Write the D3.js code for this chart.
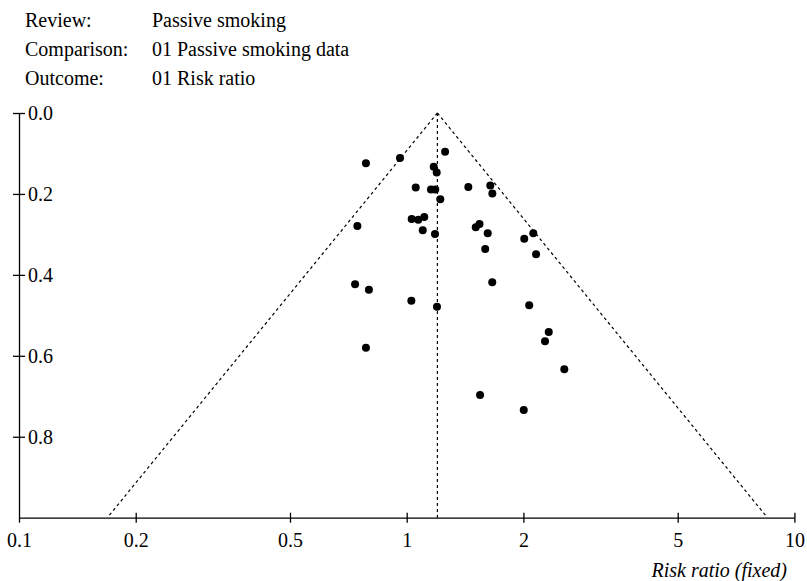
<!DOCTYPE html>
<html>
<head>
<meta charset="utf-8">
<script src="https://cdn.jsdelivr.net/npm/d3@7"></script>
<style>
  html, body { margin: 0; padding: 0; background: #fff; }
  svg { display: block; font-family: "Liberation Serif", "Times New Roman", Times, serif; }
</style>
</head>
<body>
<svg id="chart" width="807" height="581"></svg>
<script>
// ---- data ----
const headerLabels = ["Review:", "Comparison:", "Outcome:"];
const headerValues = ["Passive smoking", "01 Passive smoking data", "01 Risk ratio"];

const studyRR = [0.785, 0.961, 1.256, 1.174, 1.195, 1.055, 1.155, 1.185, 1.221, 1.442, 1.643, 1.663,
                 1.030, 1.071, 1.110, 0.746, 1.100, 1.183, 1.507, 1.541, 1.618, 1.594, 2.010, 2.121,
                 2.156, 0.736, 0.799, 1.028, 1.197, 1.662, 2.070, 2.325, 2.274, 2.550, 1.546, 2.004, 0.785];
const studySE = [0.124, 0.111, 0.096, 0.133, 0.147, 0.184, 0.189, 0.189, 0.213, 0.183, 0.179, 0.199,
                 0.262, 0.264, 0.257, 0.279, 0.290, 0.299, 0.282, 0.274, 0.297, 0.336, 0.311, 0.297,
                 0.349, 0.423, 0.437, 0.464, 0.479, 0.418, 0.475, 0.541, 0.564, 0.633, 0.697, 0.734, 0.580];

const summaryRR = 1.2;
const seMax = 1.0;
const xTicks = [0.1, 0.2, 0.5, 1, 2, 5, 10];
const xTickLabels = ["0.1", "0.2", "0.5", "1", "2", "5", "10"];
const yTicks = [0, 0.2, 0.4, 0.6, 0.8];
const yTickLabels = ["0.0", "0.2", "0.4", "0.6", "0.8"];
const xTitle = "Risk ratio (fixed)";

// ---- layout ----
const svg = d3.select("#chart");
const x = d3.scaleLog().domain([0.1, 10]).range([19, 794.4]);
const y = d3.scaleLinear().domain([0, seMax]).range([113, 517.7]);

// header
const hdr = svg.append("g").attr("font-size", 20).attr("fill", "#000");
headerLabels.forEach((t, i) => {
  hdr.append("text").attr("x", 25).attr("y", 26.7 + i * 28.9).text(t);
  hdr.append("text").attr("x", 152).attr("y", 26.7 + i * 28.9).text(headerValues[i]);
});

// funnel lines
const z = 1.96;
const funnelLeft = [[summaryRR, 0], [summaryRR * Math.exp(-z * seMax), seMax]];
const funnelRight = [[summaryRR, 0], [summaryRR * Math.exp(z * seMax), seMax]];
const line = d3.line().x(d => x(d[0])).y(d => y(d[1]));
[funnelLeft, funnelRight, [[summaryRR, 0], [summaryRR, seMax]]].forEach(pts => {
  svg.append("path").attr("d", line(pts))
    .attr("fill", "none").attr("stroke", "#000").attr("stroke-width", 1.2)
    .attr("stroke-dasharray", "3,3");
});

// x axis
const xAxis = d3.axisBottom(x).tickValues(xTicks)
  .tickFormat((d, i) => xTickLabels[i]).tickSizeInner(5).tickSizeOuter(0).tickPadding(10);
const gx = svg.append("g").attr("transform", `translate(0,${y(seMax)})`).call(xAxis);
gx.select(".domain").attr("stroke", "#000").attr("stroke-width", 1.3);
gx.selectAll(".tick line").attr("y1", d => d === 0.1 ? 0 : -5).attr("y2", 5)
  .attr("stroke", "#000").attr("stroke-width", 1.3);
gx.selectAll(".tick text").attr("font-size", 20).attr("font-family", "Liberation Serif, Times New Roman, serif")
  .attr("fill", "#000").attr("y", 29).attr("dy", 0);

// y axis
const yAxis = d3.axisRight(y).tickValues(yTicks)
  .tickFormat((d, i) => yTickLabels[i]).tickSizeInner(6).tickSizeOuter(0).tickPadding(3);
const gy = svg.append("g").attr("transform", `translate(${x(0.1)},0)`).call(yAxis);
gy.select(".domain").attr("stroke", "#000").attr("stroke-width", 1.3);
gy.selectAll(".tick line").attr("x1", -6).attr("x2", 6).attr("stroke", "#000").attr("stroke-width", 1.3);
gy.selectAll(".tick text").attr("font-size", 20).attr("font-family", "Liberation Serif, Times New Roman, serif")
  .attr("fill", "#000").attr("x", 9).attr("dy", "0.33em");

// x title
svg.append("text").attr("x", 787).attr("y", 577).attr("text-anchor", "end")
  .attr("font-size", 20).attr("font-style", "italic").text(xTitle);

// points
svg.append("g").selectAll("circle")
  .data(studyRR.map((rr, i) => ({ rr, se: studySE[i] })))
  .join("circle")
  .attr("cx", d => x(d.rr)).attr("cy", d => y(d.se)).attr("r", 4).attr("fill", "#000");
</script>
</body>
</html>
